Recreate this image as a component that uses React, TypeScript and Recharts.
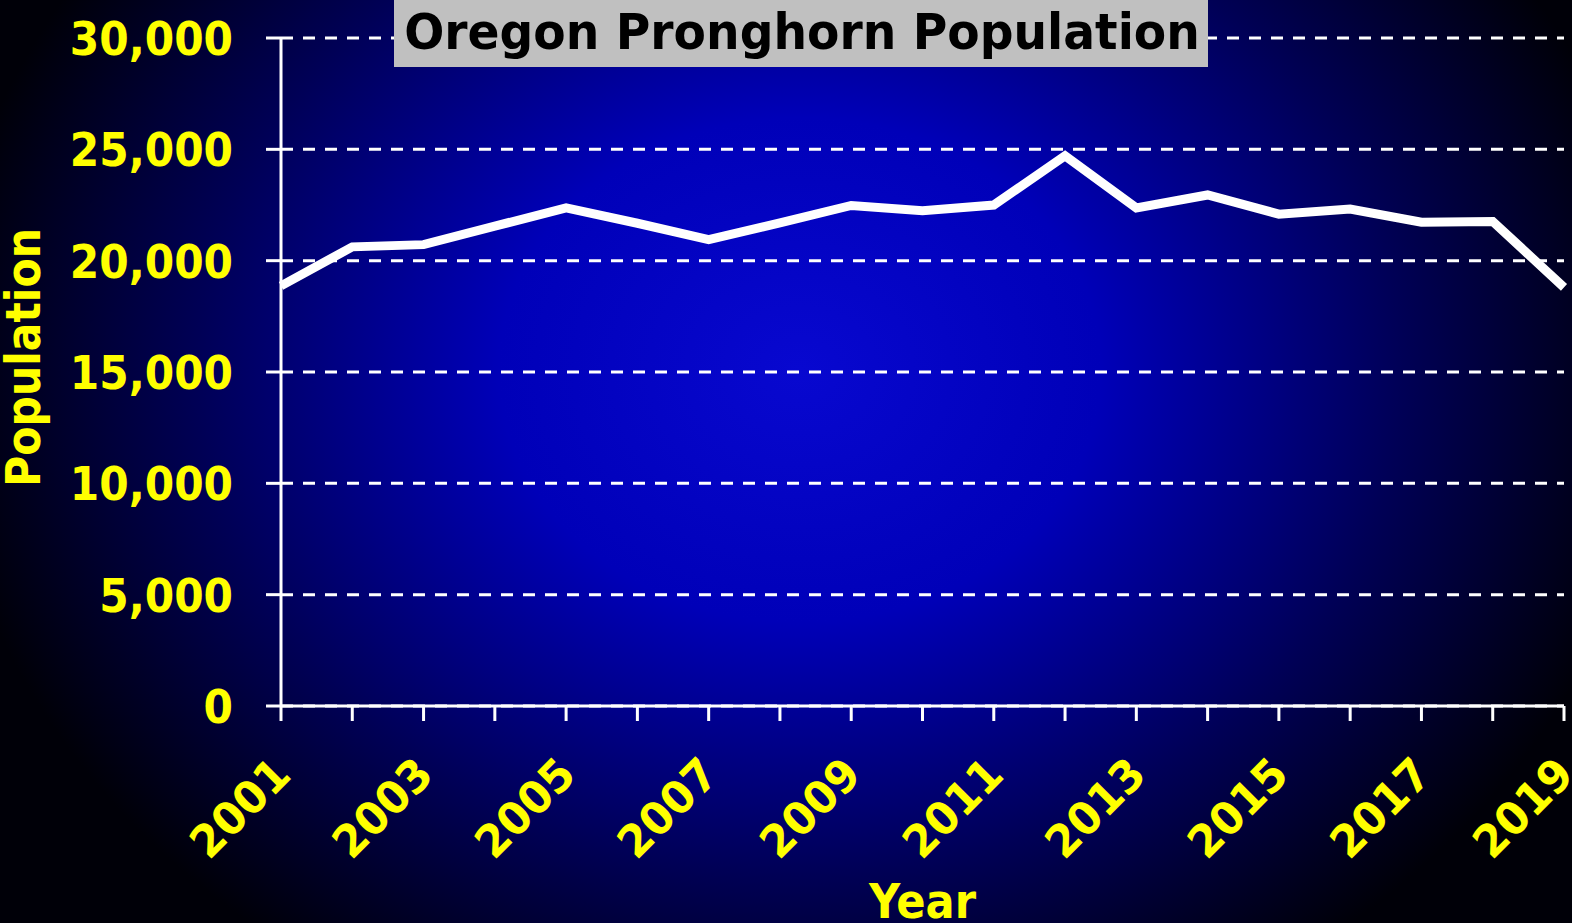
import { LineChart, Line, XAxis, YAxis, CartesianGrid } from 'recharts'

const years = [
  '2001', '2002', '2003', '2004', '2005', '2006', '2007', '2008', '2009', '2010',
  '2011', '2012', '2013', '2014', '2015', '2016', '2017', '2018', '2019',
]
const population = [
  18870, 20620, 20720, 21550, 22370, 21680, 20950, 21700, 22480, 22240,
  22500, 24710, 22370, 22950, 22090, 22320, 21730, 21760, 18800,
]
const yTicks = [0, 5000, 10000, 15000, 20000, 25000, 30000]

const data = years.map((year, i) => ({ year, population: population[i] }))

const W = 1572
const H = 923
const FONT = '"DejaVu Sans", Verdana, sans-serif'
const YELLOW = '#FFFF00'

const YTick = (props: any) => {
  const { x, y, payload } = props
  return (
    <g transform={`translate(${x},${y + 17}) scale(0.9,1)`}>
      <text textAnchor="end" fill={YELLOW} fontSize={47} fontWeight="bold" fontFamily={FONT}>
        {payload.value.toLocaleString('en-US')}
      </text>
    </g>
  )
}

// only every other year gets a label, but all years get a tick mark
const XTick = (props: any) => {
  const { x, y, payload, index } = props
  if (index % 2 !== 0) return <g />
  return (
    <g transform={`translate(${x + 12},${y + 56}) rotate(-45) scale(0.95,1)`}>
      <text textAnchor="end" fill={YELLOW} fontSize={45} fontWeight="bold" fontFamily={FONT}>
        {payload.value}
      </text>
    </g>
  )
}

export default function App() {
  return (
    <div
      style={{
        position: 'absolute',
        left: 0,
        top: 0,
        width: W,
        height: H,
        overflow: 'hidden',
        background:
          'radial-gradient(ellipse 860px 720px at 800px 370px, #0808d0 0%, #0000b8 35%, #000056 70%, #000008 100%), #000008',
      }}
    >
      <LineChart width={W} height={H} data={data} margin={{ top: 38, right: 8, bottom: 0, left: 0 }}>
        <CartesianGrid vertical={false} stroke="#ffffff" strokeWidth={3} strokeDasharray="12 10" />
        <XAxis
          dataKey="year"
          height={217}
          interval={0}
          tick={<XTick />}
          tickSize={15}
          tickMargin={0}
          stroke="#ffffff"
          strokeWidth={3}
          tickLine={{ stroke: '#ffffff', strokeWidth: 3 }}
        />
        <YAxis
          width={281}
          domain={[0, 30000]}
          ticks={yTicks}
          tick={<YTick />}
          tickSize={15}
          tickMargin={33}
          stroke="#ffffff"
          strokeWidth={3}
          tickLine={{ stroke: '#ffffff', strokeWidth: 3 }}
        />
        <Line
          type="linear"
          dataKey="population"
          stroke="#ffffff"
          strokeWidth={9}
          dot={false}
          isAnimationActive={false}
        />
      </LineChart>
      <svg
        width={W}
        height={H}
        style={{ position: 'absolute', left: 0, top: 0, pointerEvents: 'none' }}
      >
        <rect x={394} y={0} width={814} height={67} fill="#C0C0C0" />
        <g transform="translate(802,49) scale(0.944,1)">
          <text textAnchor="middle" fill="#000000" fontSize={50} fontWeight="bold" fontFamily={FONT}>
            Oregon Pronghorn Population
          </text>
        </g>
        <g transform="translate(40,357.5) rotate(-90) scale(0.887,1)">
          <text textAnchor="middle" fill={YELLOW} fontSize={48} fontWeight="bold" fontFamily={FONT}>
            Population
          </text>
        </g>
        <g transform="translate(922.5,918) scale(0.9,1)">
          <text textAnchor="middle" fill={YELLOW} fontSize={48} fontWeight="bold" fontFamily={FONT}>
            Year
          </text>
        </g>
      </svg>
    </div>
  )
}
